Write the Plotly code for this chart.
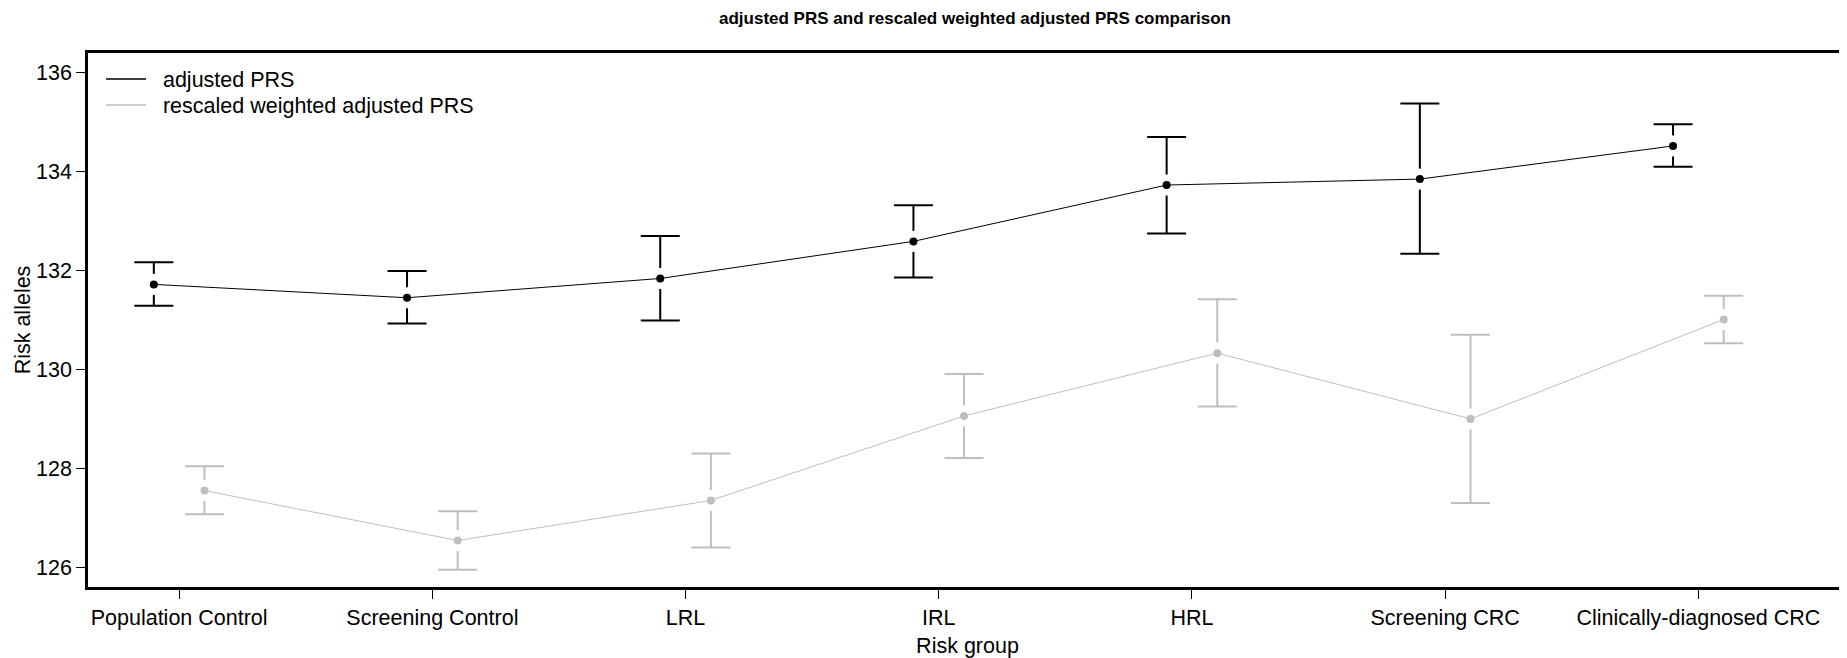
import plotly.graph_objects as go

# ---------------- data ----------------
groups = ["Population Control", "Screening Control", "LRL", "IRL", "HRL",
          "Screening CRC", "Clinically-diagnosed CRC"]

adj_mean = [131.72, 131.45, 131.84, 132.59, 133.73, 133.85, 134.52]
adj_lo = [131.29, 130.93, 130.99, 131.86, 132.75, 132.34, 134.10]
adj_hi = [132.17, 131.99, 132.70, 133.32, 134.70, 135.38, 134.96]

rw_mean = [127.55, 126.54, 127.35, 129.06, 130.33, 129.00, 131.01]
rw_lo = [127.07, 125.95, 126.40, 128.21, 129.25, 127.30, 130.53]
rw_hi = [128.04, 127.13, 128.30, 129.91, 131.42, 130.70, 131.49]

series_names = ["adjusted PRS", "rescaled weighted adjusted PRS"]
y_ticks = [126, 128, 130, 132, 134, 136]

# ---------------- layout constants ----------------
# the page body has an 8px margin, so the figure is 8px smaller than the window
W, H = 1839, 650
M_L, M_R, M_T, M_B = 80, 0, 45, 71
Y_RANGE = [125.6, 136.4]
X_RANGE = [-0.36, 6.587]
FONT = "Arial, Liberation Sans, Helvetica, sans-serif"
FS = 21.5
BLACK = "#000000"
GREY = "#BEBEBE"
DODGE = 0.1

plot_w = W - M_L - M_R
plot_h = H - M_T - M_B
px_per_y = plot_h / (Y_RANGE[1] - Y_RANGE[0])
px_per_x = plot_w / (X_RANGE[1] - X_RANGE[0])
gap = 10.5 / px_per_y        # gap between point and error bar
cap = 19.5 / px_per_x        # half width of caps


def err_segments(xpos, mean, lo, hi):
    xs, ys = [], []
    for x, m, l, h in zip(xpos, mean, lo, hi):
        if m - gap > l:
            xs += [x, x, None]
            ys += [l, m - gap, None]
        if m + gap < h:
            xs += [x, x, None]
            ys += [m + gap, h, None]
        xs += [x - cap, x + cap, None, x - cap, x + cap, None]
        ys += [h, h, None, l, l, None]
    return xs, ys


base_x = list(range(len(groups)))
fig = go.Figure()

for name, mean, lo, hi, col, off, lg in [
    (series_names[0], adj_mean, adj_lo, adj_hi, BLACK, -DODGE, "legend"),
    (series_names[1], rw_mean, rw_lo, rw_hi, GREY, DODGE, "legend2"),
]:
    xpos = [x + off for x in base_x]
    ex, ey = err_segments(xpos, mean, lo, hi)
    fig.add_trace(go.Scatter(x=ex, y=ey, mode="lines",
                             line=dict(color=col, width=2),
                             showlegend=False, hoverinfo="skip"))
    fig.add_trace(go.Scatter(x=xpos, y=mean, mode="lines+markers",
                             line=dict(color=col, width=1),
                             marker=dict(color=col, size=8),
                             name=name, showlegend=False))
    # legend entry (line only)
    fig.add_trace(go.Scatter(x=[None], y=[None], mode="lines",
                             line=dict(color=col, width=1.5),
                             name="\u00a0\u00a0" + name, showlegend=True,
                             legend=lg))


def px_to_paper_y(page_y):
    fig_y = page_y - 8
    return (H - M_B - fig_y) / plot_h


leg_common = dict(xanchor="left", yanchor="middle", bgcolor="rgba(0,0,0,0)",
                  borderwidth=0, itemwidth=40,
                  font=dict(family=FONT, size=FS, color="black"))
leg_x = (101 - 8 - M_L) / plot_w

fig.update_layout(
    width=W, height=H,
    margin=dict(l=M_L, r=M_R, t=M_T, b=M_B, autoexpand=False),
    paper_bgcolor="white", plot_bgcolor="white",
    font=dict(family=FONT, size=FS, color="black"),
    title=dict(text="adjusted PRS and rescaled weighted adjusted PRS comparison",
               x=(975 - 8) / W, xanchor="center", xref="container",
               y=1 - (18.5 - 8) / H, yanchor="middle", yref="container",
               font=dict(family=FONT, size=17, weight="bold", color="black")),
    showlegend=True,
    legend=dict(x=leg_x, y=px_to_paper_y(79), **leg_common),
    legend2=dict(x=leg_x, y=px_to_paper_y(105), **leg_common),
    xaxis=dict(range=X_RANGE, tickmode="array", tickvals=base_x, ticktext=groups,
               showgrid=False, zeroline=False, showline=True, linecolor="black",
               linewidth=2.5, mirror=True, ticks="outside", ticklen=9, tickwidth=1,
               tickcolor="black", automargin=False,
               title=dict(text="Risk group", standoff=14,
                          font=dict(family=FONT, size=FS))),
    yaxis=dict(range=Y_RANGE, tickmode="array", tickvals=y_ticks,
               showgrid=False, zeroline=False, showline=True, linecolor="black",
               linewidth=2.5, ticks="outside", ticklen=9, tickwidth=1,
               tickcolor="black", automargin=False,
               title=dict(text="Risk alleles", standoff=0,
                          font=dict(family=FONT, size=FS))),
)

fig.write_html("out.html")
